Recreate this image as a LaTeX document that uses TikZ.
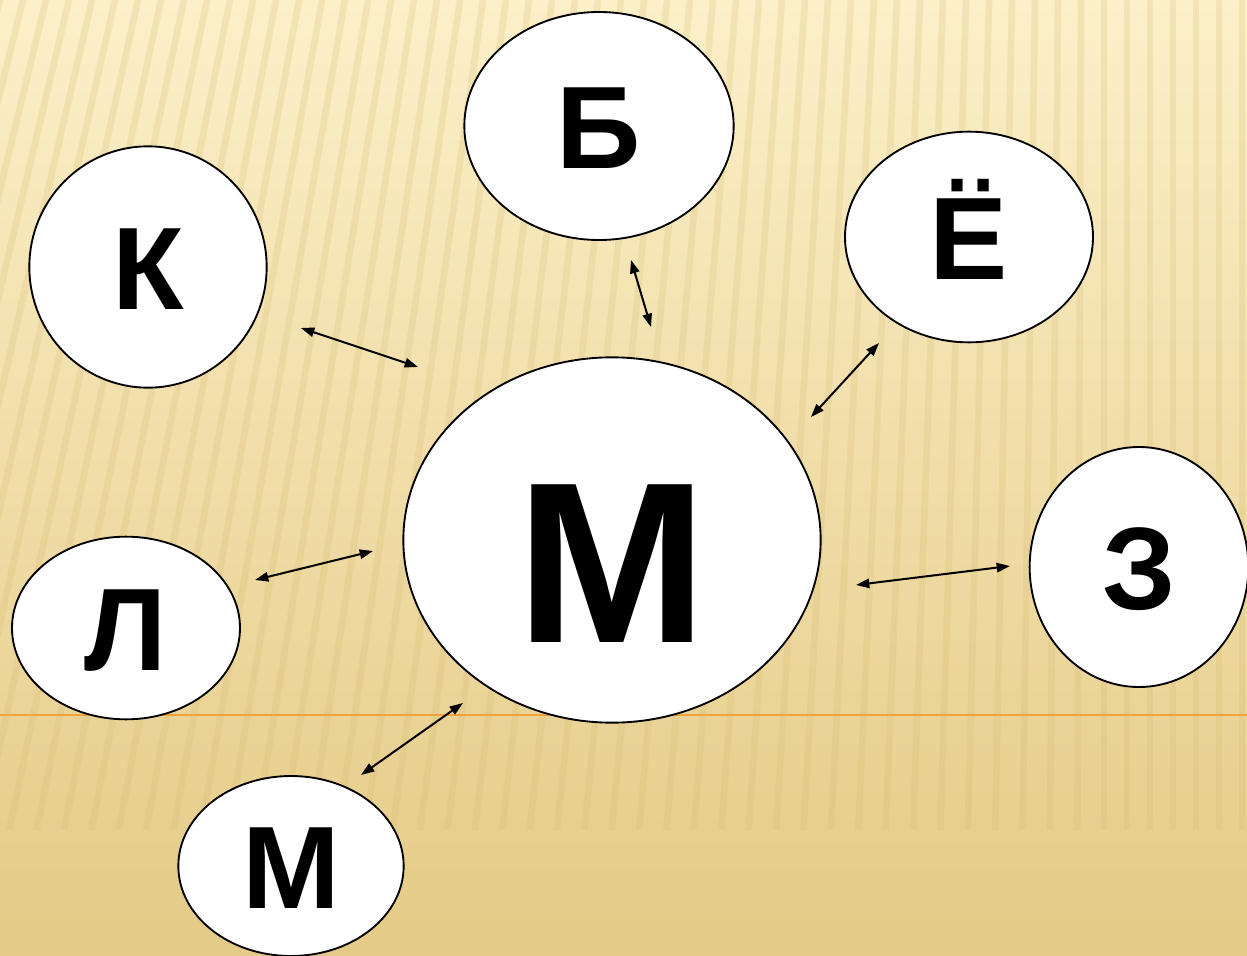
\documentclass[tikz,border=0pt]{standalone}
\usepackage{fontspec}
\setmainfont{Liberation Sans}
\usepackage{tikz}
\usetikzlibrary{arrows.meta, shapes.geometric}
\definecolor{bgTop}{HTML}{FCF0C9}
\definecolor{bgBottom}{HTML}{E4CA86}
\definecolor{stripeTan}{HTML}{D6B96E}
\definecolor{lineOrange}{HTML}{F2A23A}
\tikzset{
  letter/.style={ellipse, draw, fill=white, line width=1.4pt, inner sep=0pt,
    text height=63pt, text depth=0pt, font=\bfseries\fontsize{88}{88}\selectfont},
  bigletter/.style={letter, text height=154pt, font=\bfseries\fontsize{172}{172}\selectfont},
  link/.style={<->, line width=1.5pt},
  stripe/.style={stripeTan, line width=5pt, opacity=0.22}
}

\begin{document}
\begin{tikzpicture}[x=0.75pt, y=-0.75pt, >={Triangle[length=10pt,width=7pt]}]
\useasboundingbox (0,0) rectangle (1247,956);
% background
\shade[top color=bgTop, bottom color=bgBottom] (0,0) rectangle (1247,956);
\begin{scope}
\clip (0,0) rectangle (1247,956);
\foreach \x in {0,23,...,1330}
  \draw[stripe] (\x,0) -- ({\x-210*max(0,1-\x/1100)},830);
\end{scope}
\draw[lineOrange, line width=1.6pt] (0,715) -- (1247,715);

% letters
\node[bigletter, minimum width=313pt, minimum height=274pt] (m) at (612,540) {М};
\node[letter, minimum width=202pt, minimum height=171pt] (b) at (599,126) {Б};
\node[letter, minimum width=178pt, minimum height=181pt] (k) at (148,267) {К};
\node[letter, minimum width=186pt, minimum height=158pt] (jo) at (969,237) {Ё};
\node[letter, minimum width=164pt, minimum height=180pt] (z) at (1139,567) {З};
\node[letter, minimum width=171pt, minimum height=137pt] (l) at (126,628) {Л};
\node[letter, minimum width=169pt, minimum height=135pt] (ms) at (291,866) {М};

% arrows
\coordinate (kA) at (301,328);  \coordinate (kB) at (418,367);
\coordinate (bA) at (631,260);  \coordinate (bB) at (651,327);
\coordinate (joA) at (879,343); \coordinate (joB) at (811,417);
\coordinate (lA) at (255,580);  \coordinate (lB) at (373,551);
\coordinate (zA) at (1010,566); \coordinate (zB) at (856,585);
\coordinate (msA) at (361,775); \coordinate (msB) at (463,703);
\draw[link] (kA) -- (kB);
\draw[link] (bA) -- (bB);
\draw[link] (joA) -- (joB);
\draw[link] (lA) -- (lB);
\draw[link] (zA) -- (zB);
\draw[link] (msA) -- (msB);
\end{tikzpicture}
\end{document}
